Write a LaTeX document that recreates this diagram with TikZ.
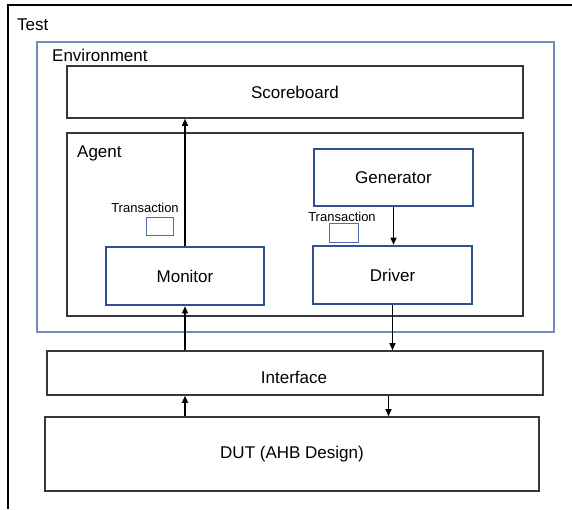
\documentclass[tikz,border=0pt]{standalone}
\usepackage{fontspec}
\setmainfont{Liberation Sans}
\usepackage{tikz}
\usetikzlibrary{arrows.meta,positioning}
\definecolor{EnvBlue}{RGB}{112,140,190}
\definecolor{UnitBlue}{RGB}{47,82,143}
\definecolor{TrBlue}{RGB}{80,110,175}
\definecolor{BoxGray}{RGB}{55,55,55}

\begin{document}
\begin{tikzpicture}[x=1pt, y=-1pt,
	box/.style={draw=BoxGray, line width=1.6pt, inner sep=0pt, font=\fontsize{17}{20}\selectfont},
	unit/.style={draw=UnitBlue, line width=2.6pt, inner sep=0pt, font=\fontsize{17}{20}\selectfont},
	trbox/.style={draw=TrBlue, line width=1pt, inner sep=0pt, minimum width=27pt, minimum height=18pt},
	lbl/.style={inner sep=0pt, anchor=west, font=\fontsize{17}{20}\selectfont},
	small/.style={inner sep=0pt, font=\fontsize{13}{15}\selectfont},
	link/.style={-{Triangle[length=7pt, width=6pt]}, line width=1.2pt}]
	\useasboundingbox (0,0) rectangle (572,509);
	
	% test frame, only top and left edge show
	\draw[line width=1.4pt] (8,509) -- (8,5) -- (572,5);
	\node[lbl] (test) at (17,25) {Test};
	
	\node[draw=EnvBlue, line width=1.4pt, inner sep=0pt, minimum width=517pt, minimum height=290pt] (env) at (295.5,187) {};
	\node[lbl] (envlbl) at (52,55) {Environment};
	
	\node[box, minimum width=456pt, minimum height=52pt] (score) at (295,92) {Scoreboard};
	\node[box, minimum width=456pt, minimum height=183pt] (agent) at (295,224.5) {};
	\node[lbl] (agentlbl) at (77,153) {Agent};
	
	\node[unit, minimum width=159pt, minimum height=57pt] (gen) at (393.5,177.5) {Generator};
	\node[unit, minimum width=159pt, minimum height=58pt] (drv) at (392.5,275) {Driver};
	\node[unit, minimum width=158pt, minimum height=58pt] (mon) at (185,276) {Monitor};
	
	\node[trbox] (trmon) at (159.5,226) {};
	\node[small] (trmonlbl) at (145,208) {Transaction};
	\node[trbox, minimum width=29pt, minimum height=19pt] (trdrv) at (343.5,232.5) {};
	\node[small] (trdrvlbl) at (342,217) {Transaction};
	
	\node[box, minimum width=496pt, minimum height=44pt] (intf) at (295,373) {};
	\node (intflbl) at (294,377) [font=\fontsize{17}{20}\selectfont] {Interface};
	\node[box, minimum width=494pt, minimum height=74pt] (dut) at (292,454) {DUT (AHB Design)};
	
	% data flow
	\draw[link] (gen.south) -- (gen.south |- drv.north);
	\draw[link] (mon.north) -- (mon.north |- score.south);
	\draw[link] (drv.south) -- (drv.south |- intf.north);
	\draw[link] (intf.north -| mon.south) -- (mon.south);
	\draw[link] (dut.north -| mon.south) -- (intf.south -| mon.south);
	\draw[link] ([xshift=-4pt]intf.south -| drv.south) -- ([xshift=-4pt]dut.north -| drv.south);
\end{tikzpicture}
\end{document}
